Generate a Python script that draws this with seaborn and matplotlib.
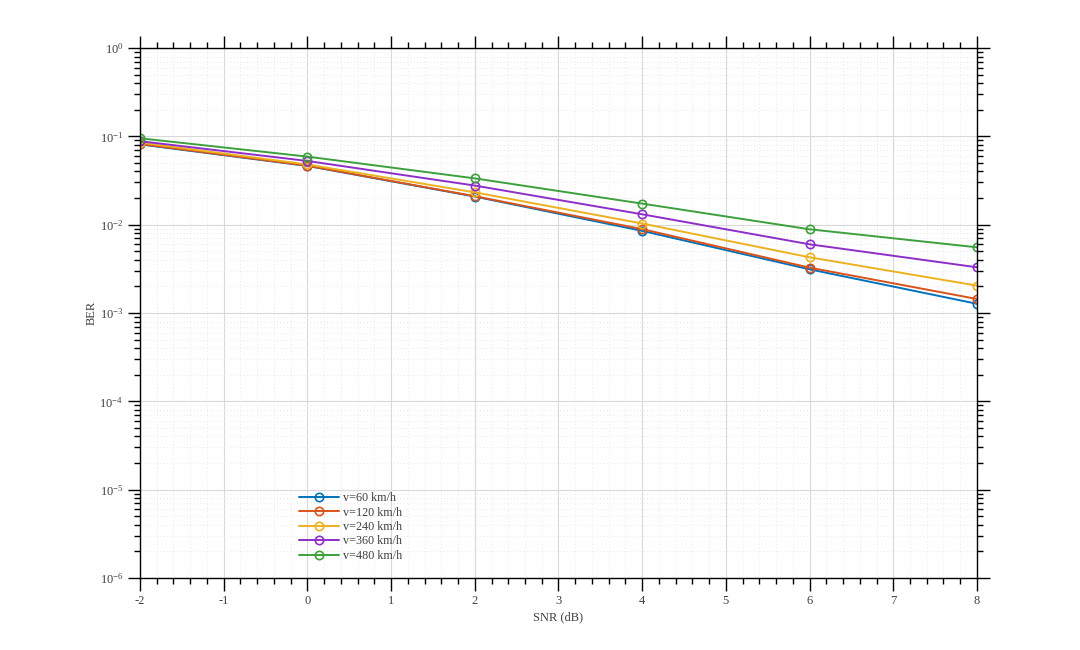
import numpy as np
import pandas as pd
import matplotlib
matplotlib.use("Agg")
import matplotlib.pyplot as plt
import seaborn as sns
from matplotlib.ticker import MultipleLocator, LogLocator, NullFormatter

# data
snr = [-2, 0, 2, 4, 6, 8]
labels = ["v=60 km/h", "v=120 km/h", "v=240 km/h", "v=360 km/h", "v=480 km/h"]
ber_60 = [0.081, 0.0462, 0.0208, 0.0085, 0.00312, 0.00127]
ber_120 = [0.082, 0.0465, 0.0210, 0.0089, 0.00326, 0.00144]
ber_240 = [0.085, 0.0480, 0.0232, 0.0103, 0.00427, 0.00204]
ber_360 = [0.088, 0.0526, 0.0277, 0.0131, 0.00599, 0.00329]
ber_480 = [0.095, 0.0589, 0.0334, 0.0173, 0.00886, 0.00554]
colors = ["#0072BD", "#D95319", "#EDB120", "#8E2EC8", "#3CA03C"]

sns.set_style("white")
plt.rcParams["font.family"] = ["Liberation Serif", "DejaVu Serif"]
plt.rcParams["mathtext.fontset"] = "stix"
plt.rcParams["axes.unicode_minus"] = False

fig = plt.figure(figsize=(10.8, 6.5), dpi=100)
ax = fig.add_axes([0.1296, 0.1108, 0.775, 0.8154])

for lab, vals, c in zip(labels, [ber_60, ber_120, ber_240, ber_360, ber_480], colors):
    df = pd.DataFrame({"SNR": snr, "BER": vals})
    sns.lineplot(data=df, x="SNR", y="BER", ax=ax, color=c, label=lab,
                 marker="o", markersize=6, mfc="none", mec=c, mew=1.2, lw=1.4)

ax.set_yscale("log")
ax.set_xlim(-2, 8)
ax.set_ylim(1e-6, 1)
ax.xaxis.set_major_locator(MultipleLocator(1))
ax.xaxis.set_minor_locator(MultipleLocator(0.2))
ax.yaxis.set_major_locator(LogLocator(base=10, numticks=10))
ax.yaxis.set_minor_locator(LogLocator(base=10, subs=np.arange(2, 10), numticks=100))
ax.yaxis.set_minor_formatter(NullFormatter())

ax.grid(which="major", color="#d9d9d9", lw=0.8, ls="-")
ax.grid(which="minor", color="#e2e2e2", lw=0.6, ls=(0, (1, 3)))

for s in ax.spines.values():
    s.set_color("black")
    s.set_linewidth(1.0)
ax.tick_params(which="both", direction="out", top=True, right=True,
               bottom=True, left=True, colors="black", labelcolor="#404040",
               labelsize=9)
ax.tick_params(which="major", length=9, width=1, pad=3)
ax.tick_params(which="minor", length=4.5, width=1)

ax.set_xlabel("SNR (dB)", fontsize=9, color="#404040", labelpad=3)
ax.set_ylabel("BER", fontsize=9, color="#404040", labelpad=1)

leg = ax.legend(loc="upper left", bbox_to_anchor=(0.18, 0.178), frameon=False,
                fontsize=8.7, labelspacing=0.2, handlelength=3.3,
                handletextpad=0.3, borderpad=0.2)
for t in leg.get_texts():
    t.set_color("#404040")

fig.savefig("out.png", dpi=100, facecolor="white")
